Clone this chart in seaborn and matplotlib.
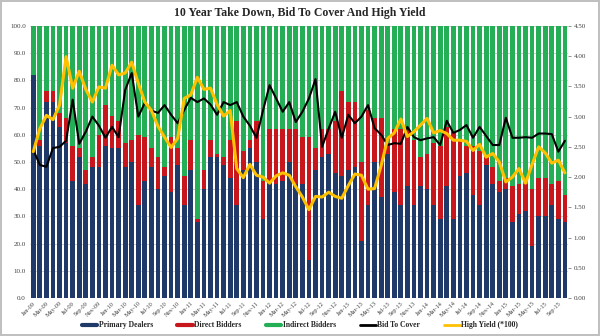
import numpy as np
import pandas as pd
import matplotlib
matplotlib.use("Agg")
import matplotlib.pyplot as plt
from matplotlib.lines import Line2D
import seaborn as sns

# ---------------- data ----------------
months = pd.date_range("2009-01-01", periods=82, freq="MS").strftime("%b-%y").tolist()

primary = [82, 56, 72, 72, 63, 57, 43, 52, 42, 48, 48, 56,
           55, 55, 48, 50, 34, 43, 48, 40, 45, 39, 49, 34, 47, 28,
           40, 52, 52, 49, 44, 34, 47, 55, 50, 29, 43, 42, 43, 50, 42, 42, 14, 47,
           52, 53, 46, 45, 47, 48, 21, 34, 50, 37, 53, 39,
           34, 41, 34, 41, 40, 34, 29, 41, 29, 45, 46, 38, 34, 49, 42, 39, 40, 28,
           31, 32, 19, 30, 30, 34, 29, 28]
direct = [0, 2, 4, 4, 5, 9, 13, 3, 5, 4, 12, 15,
          12, 10, 9, 8, 26, 16, 7, 12, 3, 20, 6, 11, 11, 1,
          7, 6, 1, 3, 14, 31, 7, 3, 15, 14, 19, 20, 19, 12, 20, 17, 45, 8,
          10, 9, 19, 31, 25, 24, 29, 35, 16, 29, 4, 23,
          28, 21, 24, 11, 13, 23, 27, 22, 32, 13, 10, 18, 20, 3, 6, 4,
          4, 13, 11, 10, 21, 14, 14, 8, 14, 10]
indirect = [18, 42, 24, 24, 32, 34, 44, 45, 53, 48, 40, 29,
            33, 35, 43, 42, 40, 41, 45, 48, 52, 41, 45, 55, 42, 71,
            53, 42, 47, 48, 42, 35, 46, 42, 35, 57, 38, 38, 38, 38, 38, 41, 41, 45,
            38, 38, 35, 24, 28, 28, 50, 31, 34, 34, 43, 38,
            38, 38, 42, 48, 47, 43, 44, 37, 39, 42, 44, 44, 46, 48, 52, 57,
            56, 59, 58, 58, 60, 56, 56, 58, 57, 62]
bid_to_cover = [2.45, 2.20, 2.17, 2.48, 2.50, 2.60, 3.28, 2.55, 2.75, 3.00, 2.85, 2.65,
                2.83, 2.66, 3.44, 3.72, 3.00, 3.23, 3.10, 3.06, 3.19, 3.03, 2.89, 3.11, 3.31, 3.24,
                3.30, 3.20, 3.03, 3.24, 3.19, 3.24, 3.00, 2.85, 2.65, 3.10, 3.52, 3.30, 3.08, 3.24,
                2.91, 3.08, 3.30, 3.62, 2.50, 2.80, 3.08, 2.65, 3.03, 2.89, 3.00, 3.19, 2.81, 2.70,
                2.53, 2.56, 2.55, 2.83, 2.66, 2.61, 2.64, 2.66, 2.53, 2.93, 2.73, 2.78, 2.86, 2.65,
                2.83, 2.68, 2.53, 2.53, 2.98, 2.65, 2.65, 2.66, 2.65, 2.72, 2.72, 2.71, 2.42, 2.60]
high_yield = [2.42, 2.80, 3.02, 2.95, 3.19, 3.99, 3.47, 3.75, 3.45, 3.24, 3.49, 3.47,
              3.85, 3.69, 3.72, 3.90, 3.55, 3.24, 3.10, 2.84, 2.66, 2.49, 2.64, 3.30, 3.36, 3.65,
              3.45, 3.47, 3.20, 3.01, 3.10, 2.14, 1.99, 2.21, 2.03, 2.00, 1.90, 2.02, 2.07, 2.03,
              1.84, 1.67, 1.46, 1.68, 1.67, 1.75, 1.68, 1.65, 1.86, 2.05, 2.03, 1.80, 1.81, 2.19,
              2.64, 2.73, 2.96, 2.67, 2.75, 2.86, 2.97, 2.73, 2.77, 2.72, 2.61, 2.61, 2.59, 2.44,
              2.54, 2.33, 2.39, 2.25, 1.92, 2.00, 2.14, 1.90, 2.21, 2.50, 2.40, 2.23, 2.28, 2.07]

left_ticks = [0, 10, 20, 30, 40, 50, 60, 70, 80, 90, 100]
right_ticks = [0, 0.5, 1.0, 1.5, 2.0, 2.5, 3.0, 3.5, 4.0, 4.5]

NAVY = "#1F3A68"
RED = "#C8161D"
GREEN = "#24AE55"
GOLD = "#FFC000"
SERIF = "Liberation Serif"

df = pd.DataFrame({"month": months, "primary": primary, "direct": direct,
                   "indirect": indirect, "btc": bid_to_cover, "hy": high_yield})
df["pos"] = np.arange(len(df))
df["top_direct"] = df["primary"] + df["direct"]
df["top_indirect"] = df["top_direct"] + df["indirect"]

sns.set_style("white")
plt.rcParams["font.family"] = [SERIF, "DejaVu Serif"]

fig = plt.figure(figsize=(6, 3.36), dpi=100)
ax = fig.add_axes([0.05, 0.113, 0.897, 0.81])

for col, c in [("top_indirect", GREEN), ("top_direct", RED), ("primary", NAVY)]:
    sns.barplot(data=df, x="pos", y=col, color=c, width=0.72, saturation=1,
                native_scale=True, linewidth=0, ax=ax, errorbar=None)

ax.set_ylim(0, 100)
ax.set_yticks(left_ticks)
ax.set_yticklabels([f"{v:.1f}" for v in left_ticks])
ax.yaxis.grid(True, color="#C8C8C8", lw=0.6)
ax.set_axisbelow(True)
ax.set_xlabel("")
ax.set_ylabel("")

ax2 = ax.twinx()
sns.lineplot(data=df, x="pos", y="btc", color="black", lw=1.5, ax=ax2)
sns.lineplot(data=df, x="pos", y="hy", color=GOLD, lw=2.2, ax=ax2)
ax2.set_ylim(0, 4.5)
ax2.set_yticks(right_ticks)
ax2.set_yticklabels([f"{v:.2f}" for v in right_ticks])
ax2.set_xlabel("")
ax2.set_ylabel("")

ax.set_xlim(-0.5, len(df) - 0.5)
tick_pos = df["pos"].tolist()[::2]
ax.set_xticks(tick_pos)
ax.set_xticklabels(months[::2], rotation=45, ha="right", rotation_mode="anchor")

for a in (ax, ax2):
    for s in a.spines.values():
        s.set_visible(False)
ax.tick_params(axis="y", length=0, labelsize=5, labelcolor="#404040", pad=3)
ax.tick_params(axis="x", length=0, labelsize=4.5, labelcolor="#404040", pad=2)
ax2.tick_params(axis="y", length=2, width=0.6, color="#808080", labelsize=5,
                labelcolor="#404040", pad=2)

fig.text(0.5, 0.962, "10 Year Take Down, Bid To Cover And High Yield",
         ha="center", va="center", fontsize=8.5, fontweight="bold", family=SERIF)

handles = [Line2D([], [], color=NAVY, lw=3), Line2D([], [], color=RED, lw=3),
           Line2D([], [], color=GREEN, lw=3), Line2D([], [], color="black", lw=2),
           Line2D([], [], color=GOLD, lw=2)]
labels = ["Primary Dealers", "Direct Bidders", "Indirect Bidders", "Bid To Cover",
          "High Yield (*100)"]
fig.legend(handles, labels, loc="center", bbox_to_anchor=(0.5, 0.032), ncol=5,
           frameon=False, prop={"family": SERIF, "weight": "bold", "size": 5.5},
           handlelength=2.0, handletextpad=0.2, columnspacing=3.2)

fig.patch.set_edgecolor("#C0C0C0")
fig.patch.set_linewidth(1.5)
fig.savefig("out.png", dpi=100, edgecolor=fig.get_edgecolor(), facecolor="white")
